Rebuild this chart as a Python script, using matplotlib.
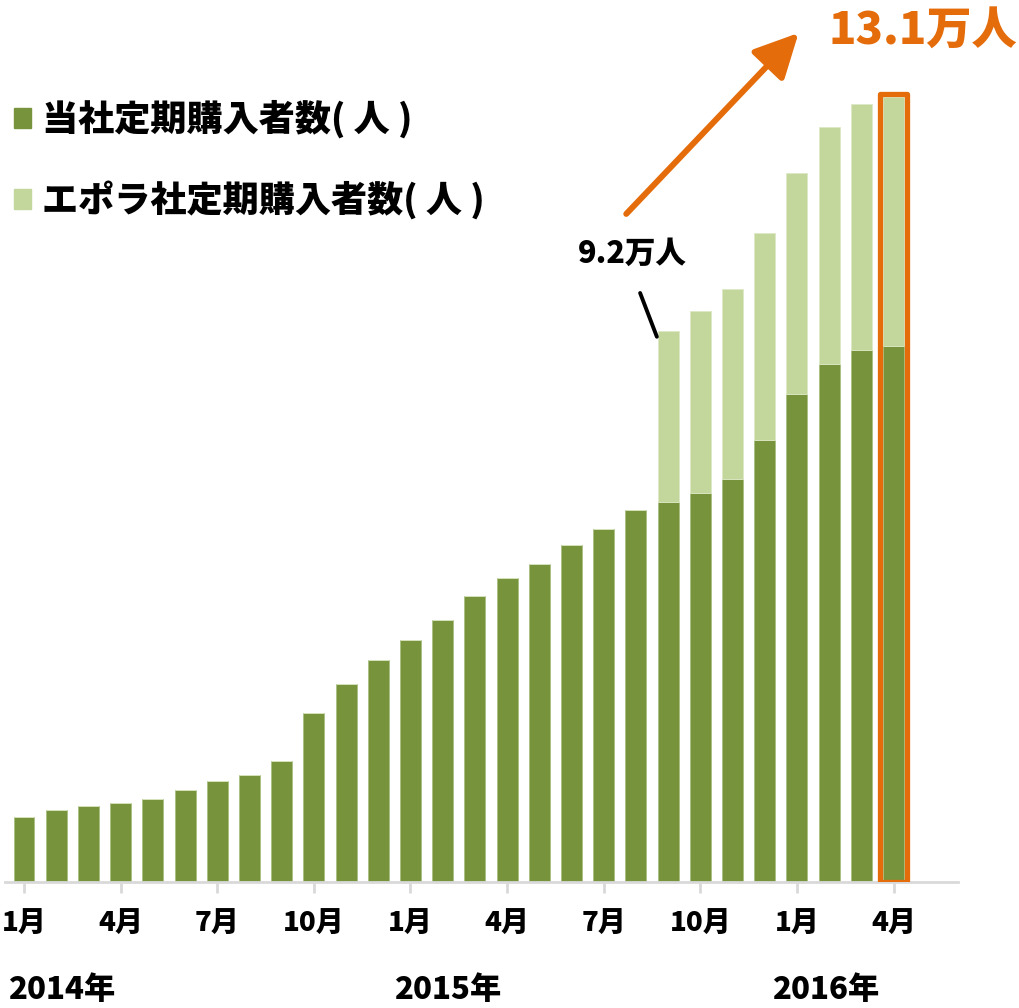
import matplotlib
matplotlib.use("Agg")
import matplotlib.pyplot as plt
from matplotlib.patches import Patch, Rectangle

plt.rcParams["font.family"] = ["Noto Sans CJK JP", "DejaVu Sans"]
plt.rcParams["font.weight"] = "bold"

# --- Data (unit: 万人), monthly from 2014-01 to 2016-04 ---
months = list(range(28))
own_members = [1.09, 1.20, 1.27, 1.32, 1.39, 1.54, 1.69, 1.79, 2.02,
               2.82, 3.31, 3.71, 4.04, 4.37, 4.77, 5.08, 5.31, 5.63,
               5.89, 6.21, 6.34, 6.50, 6.73, 7.37, 8.15, 8.65, 8.88, 8.94]
epora_members = [0] * 20 + [2.86, 3.03, 3.17, 3.46, 3.69, 3.95, 4.10, 4.16]
tick_positions = [0, 3, 6, 9, 12, 15, 18, 21, 24, 27]
tick_labels = ["1月", "4月", "7月", "10月", "1月", "4月", "7月", "10月", "1月", "4月"]
years = ["2014年", "2015年", "2016年"]

dark_green = "#77933C"
light_green = "#C3D69B"
orange = "#E46C0A"

fig = plt.figure(figsize=(10.2, 10.08), dpi=100)
ax = fig.add_axes([5 / 1020, 126 / 1008, 953 / 1020, 882 / 1008])

ax.bar(months, own_members, width=0.65, color=dark_green,
       edgecolor="#A9BF80", linewidth=0.6)
ax.bar(months, epora_members, width=0.65, bottom=own_members, color=light_green,
       edgecolor="#DDE8C6", linewidth=0.6)

ax.set_xlim(-0.59, 29.0)
ax.set_ylim(0, 14.72)

for side in ["left", "right", "top"]:
    ax.spines[side].set_visible(False)
ax.spines["bottom"].set_color("#D9D9D9")
ax.spines["bottom"].set_linewidth(2)
ax.set_yticks([])
ax.set_xticks(tick_positions)
ax.set_xticklabels(tick_labels, fontsize=20, fontweight="black")
ax.tick_params(axis="x", length=8, width=2, color="#D9D9D9", pad=12)

# year captions under the month labels
for year, x in zip(years, [1.18, 13.14, 24.9]):
    ax.text(x, -1.8, year, ha="center", va="center",
            fontsize=22.5, fontweight="black")

# highlight the latest month
last = months[-1]
last_total = own_members[-1] + epora_members[-1]
ax.add_patch(Rectangle((last - 0.42, 0), 0.84, last_total + 0.05, fill=False,
                       edgecolor=orange, linewidth=3.8, joinstyle="round", zorder=3))

# growth arrow and total label
ax.annotate("", xy=(24.05, 14.17), xytext=(18.7, 11.15),
            arrowprops=dict(arrowstyle="-|>,head_length=2.7,head_width=1.35",
                            color=orange, linewidth=4.3, shrinkA=0, shrinkB=0))
ax.text(24.97, 14.22, f"{last_total:.1f}万人", color=orange, fontsize=32.5,
        fontweight="black", ha="left", va="center")

# first month with the partner's members
sep_total = own_members[20] + epora_members[20]
ax.plot([19.13, 19.65], [9.83, sep_total - 0.1], color="black", linewidth=2.8,
        solid_capstyle="round")
ax.text(18.88, 10.5, f"{sep_total:.1f}万人", fontsize=22, fontweight="black",
        ha="center", va="center")

handles = [Patch(color=dark_green), Patch(color=light_green)]
fig.legend(handles, ["当社定期購入者数( 人 )", "エポラ社定期購入者数( 人 )"],
           loc="upper left", bbox_to_anchor=(14 / 1020, 1 - 100 / 1008),
           frameon=False, prop=dict(size=26, weight="black"),
           handlelength=0.47, handleheight=0.47, handletextpad=0.3,
           labelspacing=1.15, borderpad=0, borderaxespad=0)

fig.savefig("out.png", dpi=100)
